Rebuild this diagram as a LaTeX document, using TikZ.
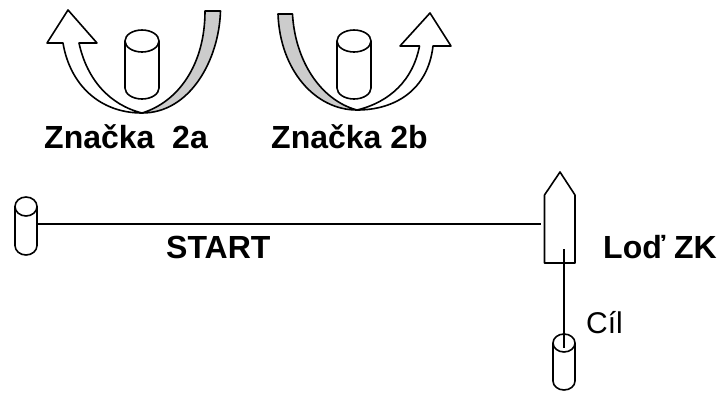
\documentclass[tikz,border=0pt]{standalone}
\usepackage{fontspec}
\setmainfont{Liberation Sans}
\definecolor{bandgray}{gray}{0.8}
\tikzset{
  outline/.style={black,line width=1.6pt,line join=round},
  boldlabel/.style={inner sep=0pt,anchor=base west,font=\fontsize{32}{32}\selectfont\bfseries},
  pluslabel/.style={inner sep=0pt,anchor=base west,font=\fontsize{30}{30}\selectfont},
}
\newcommand{\buoy}[5]{% left, right, top of cap, bottom of cap, lowest point
  \pgfmathsetmacro\cx{(#1+#2)/2}
  \pgfmathsetmacro\rx{(#2-#1)/2}
  \pgfmathsetmacro\ry{(#4-#3)/2}
  \pgfmathsetmacro\cy{(#3+#4)/2}
  \pgfmathsetmacro\by{#5-\ry}
  \draw[outline] (#1,\cy) -- (#1,\by) arc[start angle=180,end angle=360,x radius=\rx,y radius=-\ry] -- (#2,\cy);
  \draw[outline] (\cx,\cy) ellipse[x radius=\rx,y radius=\ry];
}
\begin{document}
\begin{tikzpicture}[x=1pt,y=-1pt]
  \useasboundingbox (0,0) rectangle (720,392);
  % mark 2a
  \draw[outline,fill=bandgray] (205,11) -- (220.5,11) .. controls (219,60) and (190,113) .. (142,113) .. controls (178,102) and (205,65) .. cycle;
  \draw[outline] (142,113) .. controls (100,113) and (70,85) .. (63,43) -- (47,43) -- (68,10) -- (97,43) -- (79,43) .. controls (87,80) and (110,105) .. (142,113);
  \buoy{125}{159}{30}{52}{99}
  % mark 2b
  \draw[outline,fill=bandgray] (278,14) -- (292.5,14) .. controls (295,60) and (320,100) .. (357,110) .. controls (315,110) and (280,70) .. cycle;
  \draw[outline] (357,110) .. controls (395,110) and (428,90) .. (433,46) -- (451,46) -- (430,13) -- (400,46) -- (419.5,46) .. controls (413,80) and (390,102) .. (357,110);
  \buoy{337}{371}{30}{52}{99}
  % start line
  \buoy{15}{37}{197}{216}{255}
  \coordinate (startend) at (36,224);
  \coordinate (shipside) at (541,224);
  \draw[outline] (startend) -- (shipside);
  % ship
  \draw[outline] (544.5,263) -- (544.5,195) -- (560,172) -- (575,195) -- (575,263) -- cycle;
  % finish
  \buoy{553}{575}{334}{352}{390}
  \coordinate (shipmid) at (564,249);
  \coordinate (finish) at (564,348);
  \draw[outline] (shipmid) -- (finish);
  \node[boldlabel] (mark2a) at (44,148) {Značka~~2a};
  \node[boldlabel] (mark2b) at (271,148) {Značka 2b};
  \node[boldlabel] (start) at (166,258) {START};
  \node[boldlabel] (ship) at (603,258) {Loď ZK};
  \node[pluslabel] (cil) at (586,333) {Cíl};
\end{tikzpicture}
\end{document}
